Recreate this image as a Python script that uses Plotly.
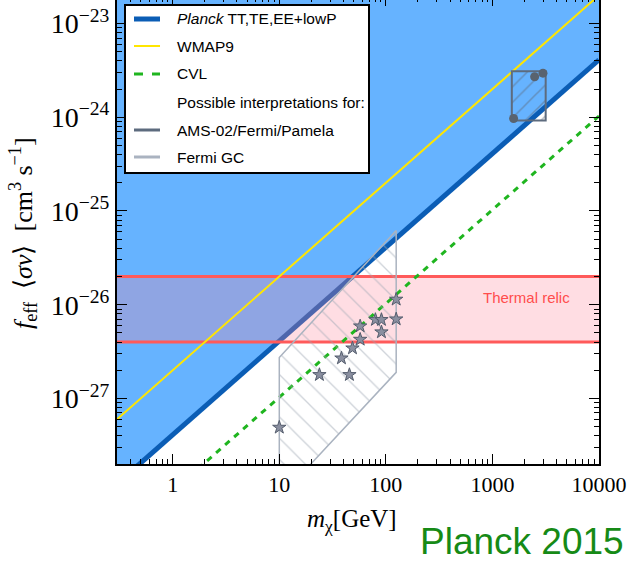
import numpy as np
import plotly.graph_objects as go

# ---------------------------------------------------------------- data
# Axis ranges: dark-matter mass [GeV] and f_eff <sigma v> [cm^3 s^-1]
mass_range = [0.3, 1.0e4]
sigma_range = [2.0e-28, 1.78e-23]

# Upper limits scale linearly with mass: f_eff <sigma v> < p_ann * m_chi
planck_pann = 4.1e-28
wmap9_pann = 2.0e-27
cvl_pann = 1.03e-28

# Thermal relic cross-section band
thermal_relic = [4.0e-27, 2.0e-26]

# AMS-02/Fermi/Pamela preferred region and best-fit points
ams_box_mass = [1520, 3160, 3160, 1520, 1520]
ams_box_sigma = [9.2e-25, 9.2e-25, 3.1e-24, 3.1e-24, 9.2e-25]
ams_mass = [1580, 2490, 2980]
ams_sigma = [9.7e-25, 2.7e-24, 2.95e-24]

# Fermi Galactic-centre excess region and fits
fermi_gc_mass = [10, 10, 125, 125, 10]
fermi_gc_sigma = [8.7e-29, 2.74e-27, 6.2e-26, 1.9e-27, 8.7e-29]
fermi_pts_mass = [125, 125, 79.8, 90.9, 90.9, 57.4, 57.4, 48.6, 38.3, 23.8, 45.5, 10.0]
fermi_pts_sigma = [1.14e-26, 7.02e-27, 6.92e-27, 6.92e-27, 5.11e-27, 5.91e-27,
                   4.26e-27, 3.44e-27, 2.69e-27, 1.79e-27, 1.79e-27, 4.91e-28]

# Tick labels
x_tickvals = [1, 10, 100, 1000, 10000]
x_ticktext = ["1", "10", "100", "1000", "10000"]
y_tickvals = [1e-27, 1e-26, 1e-25, 1e-24, 1e-23]
y_ticktext = ["10<sup>\u221227</sup>", "10<sup>\u221226</sup>", "10<sup>\u221225</sup>",
              "10<sup>\u221224</sup>", "10<sup>\u221223</sup>"]

legend_labels = ["<i>Planck</i> TT,TE,EE+lowP", "WMAP9", "CVL",
                 "Possible interpretations for:", "AMS-02/Fermi/Pamela", "Fermi GC"]

# ---------------------------------------------------------------- styles
C_EXCL = "#66b3ff"
C_PLANCK = "#0b5db5"
C_WMAP = "#ffe600"
C_CVL = "#1fb51f"
C_RELIC = "#ff5a5a"
C_AMS = "#5d6b7e"
C_GC = "#aab3c0"
SERIF = "Liberation Serif, Times New Roman, serif"
SANS = "Liberation Sans, Arial, sans-serif"

W, H = 631, 562
ML, MR, MT, MB = 117, 32, 0, 98
PW, PH = W - ML - MR, H - MT - MB


def px(x):
    return (x - ML) / PW


def py(y):
    return (MT + PH - y) / PH


m_line = np.array(mass_range)
fig = go.Figure()

# excluded region above the Planck limit
fig.add_trace(go.Scatter(
    x=[m_line[0], m_line[1], m_line[1], m_line[0]],
    y=[planck_pann * m_line[0], planck_pann * m_line[1], 1e-20, 1e-20],
    fill="toself", fillcolor=C_EXCL, line=dict(width=0), mode="lines",
    hoverinfo="skip", showlegend=False))

fig.add_trace(go.Scatter(x=m_line, y=planck_pann * m_line, mode="lines",
                         line=dict(color=C_PLANCK, width=5), showlegend=False))

# thermal relic band
fig.add_trace(go.Scatter(
    x=[m_line[0], m_line[1], m_line[1], m_line[0]],
    y=[thermal_relic[0], thermal_relic[0], thermal_relic[1], thermal_relic[1]],
    fill="toself", fillcolor="rgba(255,130,150,0.27)", line=dict(width=0),
    mode="lines", hoverinfo="skip", showlegend=False))
for level in thermal_relic:
    fig.add_trace(go.Scatter(x=m_line, y=[level, level], mode="lines",
                             line=dict(color=C_RELIC, width=3), showlegend=False))

fig.add_trace(go.Scatter(x=m_line, y=wmap9_pann * m_line, mode="lines",
                         line=dict(color=C_WMAP, width=2), showlegend=False))
fig.add_trace(go.Scatter(x=m_line, y=cvl_pann * m_line, mode="lines",
                         line=dict(color=C_CVL, width=3, dash="6px,6px"),
                         showlegend=False))

# Fermi GC region (hatched)
fig.add_trace(go.Scatter(
    x=fermi_gc_mass, y=fermi_gc_sigma, mode="lines", fill="toself",
    fillcolor="rgba(0,0,0,0)",
    fillpattern=dict(shape="\\", size=15, solidity=0.09, fgcolor="#9ea7b4",
                     bgcolor="rgba(0,0,0,0)"),
    line=dict(color=C_GC, width=1.5), hoverinfo="skip", showlegend=False))

# AMS-02/Fermi/Pamela box (hatched)
fig.add_trace(go.Scatter(
    x=ams_box_mass, y=ams_box_sigma, mode="lines", fill="toself",
    fillcolor="rgba(0,0,0,0)",
    fillpattern=dict(shape="/", size=11, solidity=0.14, fgcolor=C_AMS,
                     bgcolor="rgba(0,0,0,0)"),
    line=dict(color=C_AMS, width=2), hoverinfo="skip", showlegend=False))

fig.add_trace(go.Scatter(
    x=fermi_pts_mass, y=fermi_pts_sigma, mode="markers",
    marker=dict(symbol="star", size=10, color="#8a8fa0",
                line=dict(color="#535c6c", width=1)), showlegend=False))
fig.add_trace(go.Scatter(
    x=ams_mass, y=ams_sigma, mode="markers",
    marker=dict(symbol="circle", size=9, color="#59636f"), showlegend=False))

# carrier trace for the top tick axis
fig.add_trace(go.Scatter(x=[1], y=[1e-25], xaxis="x2", mode="markers",
                         marker=dict(opacity=0), hoverinfo="skip", showlegend=False))


def log_minor(lo_exp, hi_exp):
    return [k * 10.0 ** e for e in range(lo_exp, hi_exp) for k in range(2, 10)]


x_minor = log_minor(-1, 4)
y_minor = log_minor(-29, -22)

axis_common = dict(type="log", showgrid=False, zeroline=False, ticks="inside",
                   tickcolor="black", tickwidth=1)

fig.update_layout(
    width=W, height=H, margin=dict(l=ML, r=MR, t=MT, b=MB),
    paper_bgcolor="white", plot_bgcolor="white", showlegend=False,
    xaxis=dict(**axis_common, range=[np.log10(mass_range[0]), np.log10(mass_range[1])],
               showline=True, linecolor="black", linewidth=2, mirror=False,
               ticklen=10, tickvals=x_tickvals, ticktext=x_ticktext,
               tickfont=dict(family=SERIF, size=22, color="black"),
               minor=dict(ticks="inside", ticklen=5, tickvals=x_minor,
                          tickcolor="black", showgrid=False)),
    xaxis2=dict(**axis_common, range=[np.log10(mass_range[0]), np.log10(mass_range[1])],
                overlaying="x", side="top", anchor="y", showline=False,
                ticklen=6, tickvals=x_tickvals, showticklabels=False,
                minor=dict(ticks="inside", ticklen=2, tickvals=x_minor,
                           tickcolor="black", showgrid=False)),
    yaxis=dict(**axis_common, range=[np.log10(sigma_range[0]), np.log10(sigma_range[1])],
               showline=True, linecolor="black", linewidth=2, mirror="ticks",
               ticklen=10, tickvals=y_tickvals, ticktext=y_ticktext,
               tickfont=dict(family=SERIF, size=28, color="black"),
               minor=dict(ticks="inside", ticklen=5, tickvals=y_minor,
                          tickcolor="black", showgrid=False)),
)

NBSP = "\u00a0"
y_label = ("<i>f</i><sub>eff</sub>" + NBSP * 2 + "\u27e8<i>\u03c3v</i>\u27e9" + NBSP * 2
           + "[cm<sup>3</sup>" + NBSP + "s<sup>\u22121</sup>]")

annotations = [
    dict(x=np.log10(2110), y=np.log10(1.18e-26), xref="x", yref="y",
         text="Thermal relic", showarrow=False,
         font=dict(family=SANS, size=15, color="#ff4d4d")),
    dict(x=px(352), y=py(538), xref="paper", yref="paper",
         text="<i>m</i><sub>\u03c7</sub>[GeV]", showarrow=False,
         font=dict(family=SERIF, size=25, color="black")),
    dict(x=px(23), y=py(233), xref="paper", yref="paper", textangle=-90,
         xanchor="center", yanchor="middle", xshift=0,
         text=y_label, showarrow=False,
         font=dict(family=SERIF, size=26, color="black")),
    dict(x=px(418), y=py(541), xref="paper", yref="paper", xanchor="left",
         yanchor="middle", text="Planck 2015", showarrow=False,
         font=dict(family=SANS, size=37, color="#168a16")),
]

# legend box
shapes = [dict(type="rect", xref="paper", yref="paper", x0=px(125), x1=px(369),
               y0=py(173), y1=py(5), fillcolor="white",
               line=dict(color="black", width=2), layer="above")]
legend_rows = [19, 46, 74, 102, 130, 157]
legend_styles = [dict(color=C_PLANCK, width=5), dict(color=C_WMAP, width=2),
                 dict(color=C_CVL, width=3, dash="dash"), None,
                 dict(color=C_AMS, width=3), dict(color=C_GC, width=3)]
for row, style, label in zip(legend_rows, legend_styles, legend_labels):
    if style is not None:
        shapes.append(dict(type="line", xref="paper", yref="paper",
                           x0=px(134), x1=px(160), y0=py(row), y1=py(row),
                           line=style, layer="above"))
    annotations.append(dict(x=px(175), y=py(row), xref="paper", yref="paper",
                            xanchor="left", yanchor="middle", text=label,
                            showarrow=False,
                            font=dict(family=SANS, size=15.5, color="black")))

fig.update_layout(shapes=shapes, annotations=annotations)
fig.write_html("out.html")
